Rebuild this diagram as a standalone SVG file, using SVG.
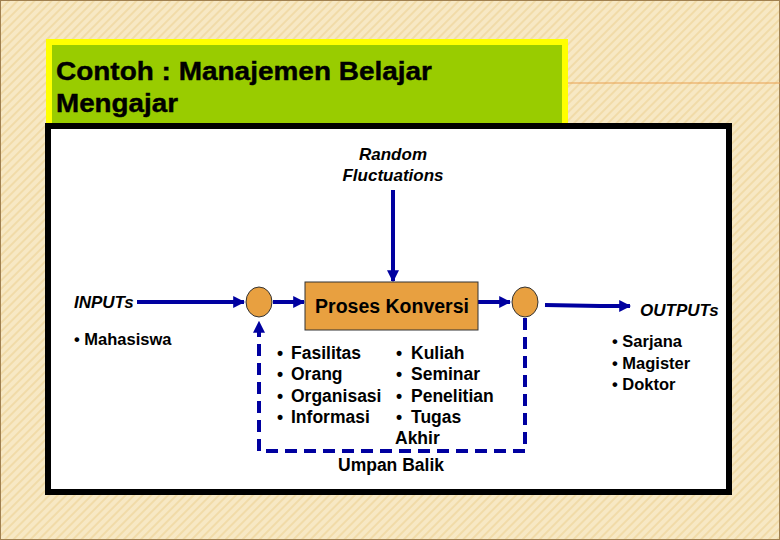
<svg xmlns="http://www.w3.org/2000/svg" width="780" height="540" viewBox="0 0 780 540">
<defs>
<pattern id="bg" width="6" height="6" patternUnits="userSpaceOnUse" patternTransform="rotate(45)">
<rect width="6" height="6" fill="#f7e8c4"/><rect width="2" height="6" fill="#f1dba8"/>
</pattern>
<marker id="ah" viewBox="0 0 10 10" refX="9" refY="5" markerWidth="3" markerHeight="3" orient="auto"><path d="M0,0 L10,5 L0,10 z" fill="#0000a0"/></marker>
<style>
text{font-family:"Liberation Sans",Arial,sans-serif;fill:#000}
.b{font-weight:bold;font-size:17.5px}
.it{font-style:italic;font-weight:bold;font-size:17px}
.o{font-weight:bold;font-size:16.5px}
.ln{stroke:#0000a0;stroke-width:4;fill:none}
.c{fill:#e8a040;stroke:#333;stroke-width:1}
</style>
</defs>
<rect width="780" height="540" fill="url(#bg)"/>
<rect x="0.5" y="0.5" width="779" height="539" fill="none" stroke="#a08050"/>
<line x1="568" y1="83" x2="780" y2="83" stroke="#e8a050" stroke-width="1"/>
<g id="title">
<rect x="46" y="39" width="522" height="90" fill="#ffff00"/>
<rect x="52" y="45" width="510" height="84" fill="#99cc00"/>
<text x="56" y="80" font-size="25" font-weight="600" stroke="#000" stroke-width="0.4" textLength="376" lengthAdjust="spacingAndGlyphs">Contoh : Manajemen Belajar</text>
<text x="56" y="112" font-size="25" font-weight="600" stroke="#000" stroke-width="0.4" textLength="122" lengthAdjust="spacingAndGlyphs">Mengajar</text>
</g>
<rect x="48" y="126" width="681" height="366" fill="#fff" stroke="#000" stroke-width="6"/>
<g id="connectors">
<line class="ln" x1="393" y1="190" x2="393" y2="281" marker-end="url(#ah)" stroke-width="3"/>
<line class="ln" x1="137" y1="302" x2="244" y2="302" marker-end="url(#ah)"/>
<line class="ln" x1="273" y1="302" x2="304" y2="302" marker-end="url(#ah)"/>
<line class="ln" x1="478" y1="302" x2="510" y2="302" marker-end="url(#ah)"/>
<polyline class="ln" points="545,305 600,306 630,306" marker-end="url(#ah)"/>
<polyline class="ln" points="525,318 525,451 259,451 259,322" stroke-dasharray="12,7" marker-end="url(#ah)"/>
</g>
<g id="random"><text class="it" x="393" y="160" text-anchor="middle">Random</text><text class="it" x="393" y="181" text-anchor="middle">Fluctuations</text></g>
<g id="c1"><ellipse class="c" cx="259" cy="302" rx="13" ry="15"/></g>
<g id="c2"><ellipse class="c" cx="525" cy="302" rx="13" ry="15"/></g>
<g id="proses"><rect x="305" y="282" width="173" height="48" fill="#e8a040" stroke="#333"/>
<text x="392" y="313" text-anchor="middle" font-size="19.5" font-weight="bold">Proses Konversi</text></g>
<g id="inputs"><text class="it" x="74" y="308">INPUTs</text><text class="o" x="74" y="345" font-size="17">• Mahasiswa</text></g>
<g id="outputs"><text class="it" x="640" y="316">OUTPUTs</text>
<text class="o" x="612" y="347">• Sarjana</text>
<text class="o" x="612" y="369">• Magister</text>
<text class="o" x="612" y="390">• Doktor</text></g>
<g id="list">
<text class="b" x="277" y="359">•</text><text class="b" x="291" y="359">Fasilitas</text>
<text class="b" x="277" y="380">•</text><text class="b" x="291" y="380">Orang</text>
<text class="b" x="277" y="402">•</text><text class="b" x="291" y="402">Organisasi</text>
<text class="b" x="277" y="423">•</text><text class="b" x="291" y="423">Informasi</text>
<text class="b" x="396" y="359">•</text><text class="b" x="411" y="359">Kuliah</text>
<text class="b" x="396" y="380">•</text><text class="b" x="411" y="380">Seminar</text>
<text class="b" x="396" y="402">•</text><text class="b" x="411" y="402">Penelitian</text>
<text class="b" x="396" y="423">•</text><text class="b" x="411" y="423">Tugas</text>
<text class="b" x="395" y="444">Akhir</text>
</g>
<g id="umpan"><text class="b" x="391" y="471" text-anchor="middle" font-size="18">Umpan Balik</text></g>
</svg>
